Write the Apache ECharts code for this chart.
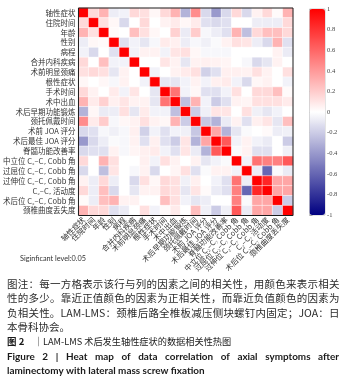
<!DOCTYPE html>
<html><head><meta charset="utf-8">
<script src="https://cdn.jsdelivr.net/npm/echarts@6/dist/echarts.min.js"></script>
<style>html,body{margin:0;padding:0;background:#fff}#c{width:353px;height:392px}</style>
</head><body><div id="c"></div>
<script>
// ---- categories ----
const variables = ['轴性症状','住院时间','年龄','性别','病程','合并内科疾病','术前明显颈痛','根性症状','手术时间','术中出血','术后早期功能锻炼','颈托佩戴时间','术前 JOA 评分','术后最佳 JOA 评分','脊髓功能改善率','中立位 C₂–C₇ Cobb 角','过屈位 C₂–C₇ Cobb 角','过伸位 C₂–C₇ Cobb 角','C₂–C₇ 活动度','术后位 C₂–C₇ Cobb 角','颈椎曲度丢失度'];

// ---- correlation values: upper triangle, row i holds columns i+1..21 ----
const row1  = [0.15, 0.3, -0.07, -0.05, 0.15, 0.12, 0.03, 0.15, 0.3, -0.3, 0.45, -0.15, -0.4, -0.15, 0.15, -0.15, 0.05, 0.15, 0.02, 0.3];
const row2  = [0.12, 0.03, -0.15, 0.0, 0.15, 0.0, 0.05, 0.08, 0.03, 0.08, -0.12, -0.15, -0.12, 0.0, 0.0, -0.07, -0.07, -0.07, 0.15];
const row3  = [0.02, 0.0, 0.25, 0.12, 0.03, 0.0, 0.18, -0.08, 0.2, -0.03, -0.07, -0.12, 0.3, -0.25, 0.15, 0.25, 0.25, 0.15];
const row4  = [-0.12, -0.05, -0.1, -0.03, 0.08, 0.06, -0.07, -0.03, -0.06, -0.02, 0.05, 0.12, 0.1, -0.07, -0.15, 0.3, -0.12];
const row5  = [-0.05, 0.05, 0.05, -0.05, 0.1, 0.12, 0.03, -0.03, -0.03, -0.03, 0.0, 0.0, 0.0, 0.0, 0.05, -0.08];
const row6  = [0.0, 0.0, 0.1, 0.05, -0.1, 0.05, 0.06, 0.05, 0.04, 0.0, -0.03, -0.15, -0.1, 0.05, 0.0];
const row7  = [-0.05, 0.0, 0.05, 0.08, 0.12, -0.18, -0.12, 0.06, 0.06, 0.05, 0.12, 0.05, 0.0, 0.12];
const row8  = [-0.1, -0.1, -0.05, 0.05, -0.05, 0.06, 0.08, -0.05, -0.15, 0.03, 0.05, 0.0, -0.05];
const row9  = [0.55, -0.05, 0.03, -0.12, -0.12, -0.05, 0.12, 0.0, 0.15, 0.15, 0.25, 0.02];
const row10 = [-0.25, 0.3, -0.05, -0.2, -0.12, 0.05, 0.04, 0.12, 0.12, 0.12, 0.08];
const row11 = [-0.2, -0.06, 0.1, 0.1, 0.0, 0.12, -0.06, -0.1, -0.05, 0.0];
const row12 = [-0.22, -0.3, -0.08, 0.05, -0.12, 0.06, 0.1, -0.1, 0.25];
const row13 = [0.35, -0.3, -0.1, -0.02, 0.0, 0.02, -0.07, -0.06];
const row14 = [0.65, -0.05, 0.05, -0.05, -0.08, 0.0, -0.2];
const row15 = [-0.02, 0.05, -0.12, -0.12, 0.0, -0.06];
const row16 = [-0.05, 0.55, 0.5, 0.5, 0.65];
const row17 = [-0.07, -0.6, -0.02, -0.08];
const row18 = [0.85, 0.35, 0.35];
const row19 = [0.35, 0.35];
const row20 = [-0.2];
const upperRows = [row1,row2,row3,row4,row5,row6,row7,row8,row9,row10,row11,row12,row13,row14,row15,row16,row17,row18,row19,row20];

// ---- colour bar ----
const colorStops = ['#000080', '#ffffff', '#ff0000'];
const colorbarMin = -1, colorbarMax = 1, colorbarStep = 0.2;

// ---- texts ----
const sigText = 'Siginficant level:0.05';
const cap1 = '图注：每一方格表示该行与列的因素之间的相关性，用颜色来表示相关';
const cap2 = '性的多少。靠近正值颜色的因素为正相关性，而靠近负值颜色的因素为';
const cap3 = [...'负相关性。', 'LAM-LMS', '：', ...'颈椎后路全椎板减压侧块螺钉内固定；', 'JOA', '：', '日'];
const cap4 = '本骨科协会。';
const titleCnBold = '图 2';
const titleCnRest = 'LAM-LMS 术后发生轴性症状的数据相关性热图';
const titleEn1 = 'Figure 2 | Heat map of data correlation of axial symptoms after';
const titleEn2 = 'laminectomy with lateral mass screw fixation';

// build symmetric matrix
const n = variables.length;
const M = Array.from({length:n}, (_, i) => Array.from({length:n}, (_, j) => i === j ? 1 : 0));
upperRows.forEach((r, i) => r.forEach((v, k) => { const j = i + 1 + k; M[i][j] = v; M[j][i] = v; }));
const data = [];
for (let i = 0; i < n; i++) for (let j = 0; j < n; j++) data.push([j, i, M[i][j]]);

// text layout helpers
const ctx = document.createElement('canvas').getContext('2d');
function tw(t, font){ ctx.font = font; return ctx.measureText(t).width; }
const CJK = '"Noto Sans CJK SC"';
const EN = 'Lato';
function justify(tokens, x0, x1, y, size, weight, family, color){
  const font = weight + ' ' + size + 'px ' + family;
  const ws = tokens.map(t => tw(t, font));
  const total = ws.reduce((a,b)=>a+b, 0);
  const gap = (x1 - x0 - total) / (tokens.length - 1);
  let x = x0; const els = [];
  tokens.forEach((t, k) => {
    els.push({type:'text', x: x, y: y, silent:true, style:{text:t, fill:color, fontSize:size, fontFamily:family.replace(/"/g,''), fontWeight:weight, verticalAlign:'middle', align:'left'}});
    x += ws[k] + gap;
  });
  return els;
}
function plain(t, x, y, size, weight, family, color){
  return {type:'text', x:x, y:y, silent:true, style:{text:t, fill:color, fontSize:size, fontFamily:family.replace(/"/g,''), fontWeight:weight, verticalAlign:'middle', align:'left'}};
}
const capColor = '#2b2b2b';
const cs = 10.5;
// english bold size fitted to second line width
const enSize = 10 * 198 / tw(titleEn2, 'bold 10px ' + EN);
const graphics = [].concat(
  [plain(sigText, 20, 259, 7.3, 'normal', EN, '#333')],
  justify(Array.from(cap1), 7, 339.5, 284, cs, 'normal', CJK, capColor),
  justify(Array.from(cap2), 7, 339.5, 298.5, cs, 'normal', CJK, capColor),
  justify(cap3, 7, 339.5, 312.7, cs, 'normal', CJK, capColor),
  [plain(cap4, 7, 326.7, cs, 'normal', CJK, capColor)],
  [plain(titleCnBold, 7, 341.7, 9.5, 'bold', CJK, '#1a1a1a'),
   plain('｜', 34, 341.7, 9.5, 'normal', CJK, '#1a1a1a'),
   plain(titleCnRest, 43, 341.7, 9.2, 'normal', CJK, '#1a1a1a')],
  justify(titleEn1.split(' '), 7, 339, 356.7, enSize, 'bold', EN, '#1a1a1a'),
  [plain(titleEn2, 7, 370.7, enSize, 'bold', EN, '#1a1a1a')]
);

const chart = echarts.init(document.getElementById('c'), null, {renderer:'canvas'});
chart.setOption({
  animation: false,
  grid: [
    {left:77, top:8, width:216, height:207.5, show:true, z:3, backgroundColor:'transparent', borderColor:'#1a1a1a', borderWidth:1},
    {left:309.5, top:9, width:15.5, height:206, show:true, z:3, backgroundColor:'transparent', borderColor:'#bbbbbb', borderWidth:0.8}
  ],
  xAxis: [
    {type:'category', data:variables, gridIndex:0, axisLine:{show:false}, axisTick:{show:false}, splitLine:{show:false},
     axisLabel:{interval:0, rotate:45, fontSize:7.5, margin:3, color:'#333', fontFamily:'Noto Sans CJK SC'}},
    {type:'value', gridIndex:1, show:false}
  ],
  yAxis: [
    {type:'category', data:variables, inverse:true, gridIndex:0, axisLine:{show:false}, axisTick:{show:false}, splitLine:{show:false},
     axisLabel:{interval:0, fontSize:7.5, margin:3, color:'#333', fontFamily:'Noto Sans CJK SC'}},
    {type:'value', gridIndex:1, min:colorbarMin, max:colorbarMax, interval:colorbarStep, position:'right',
     axisLine:{show:false}, axisTick:{show:true, length:3, lineStyle:{color:'#777', width:0.8}}, splitLine:{show:false},
     axisLabel:{fontSize:6.5, margin:2, color:'#444', fontFamily:'Liberation Serif', formatter: v => String(+(+v).toFixed(1))}}
  ],
  visualMap: {type:'continuous', min:colorbarMin, max:colorbarMax, seriesIndex:0, calculable:false, hoverLink:false,
    left:309.5, top:9, itemWidth:15.5, itemHeight:206, padding:0, inRange:{color:colorStops}},
  series: [{type:'heatmap', data:data, xAxisIndex:0, yAxisIndex:0, itemStyle:{borderColor:'#ffffff', borderWidth:0.5}}],
  graphic: graphics
});
</script></body></html>
